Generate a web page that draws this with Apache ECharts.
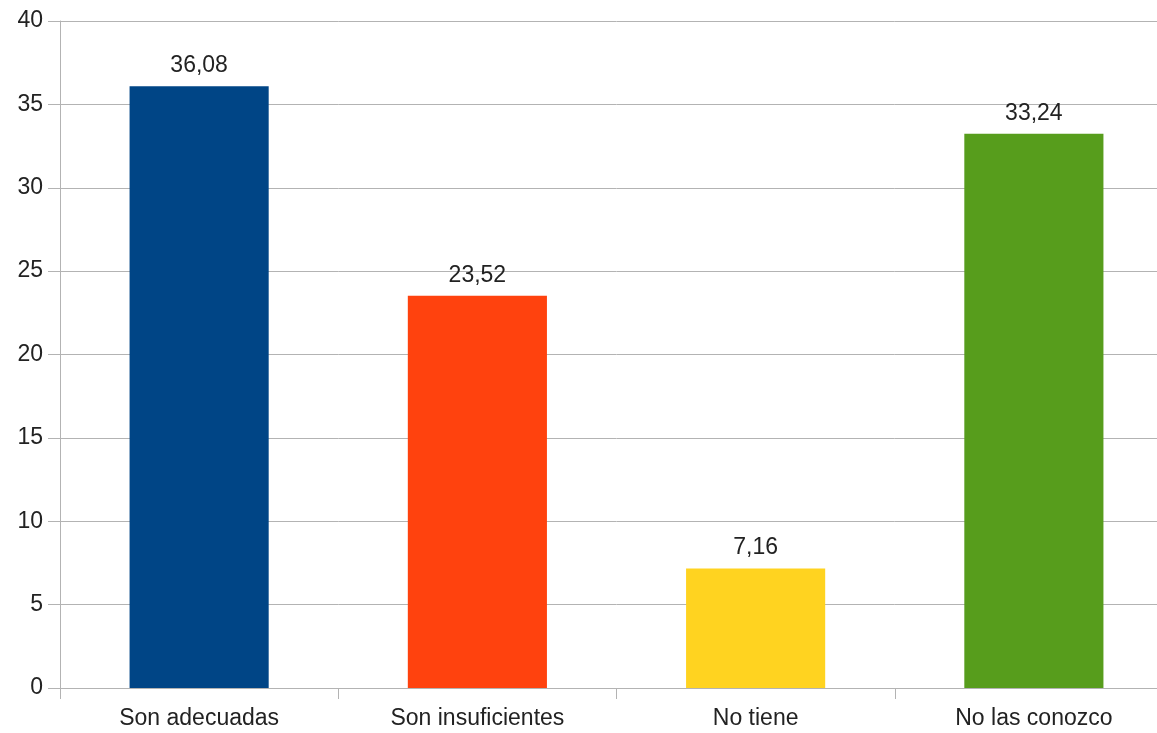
<!DOCTYPE html>
<html>
<head>
<meta charset="utf-8">
<script src="https://cdn.jsdelivr.net/npm/echarts@6/dist/echarts.min.js"></script>
<style>
  html, body { margin: 0; padding: 0; background: #fff; overflow: hidden; }
  #chart { width: 1190px; height: 733px; }
</style>
</head>
<body>
<div id="chart"></div>
<script>
// categorias y valores
const categories = ['Son adecuadas', 'Son insuficientes', 'No tiene', 'No las conozco'];
const values = [36.08, 23.52, 7.16, 33.24];
const barColors = ['#004586', '#ff420e', '#ffd320', '#579d1c'];
const yTicks = [0, 5, 10, 15, 20, 25, 30, 35, 40];

const chart = echarts.init(document.getElementById('chart'));
const font = '"Liberation Sans", Arial, sans-serif';

const option = {
  animation: false,
  // el area del grafico sigue mas alla del borde derecho de la imagen
  grid: { left: 60, top: 21, width: 1113, height: 667, containLabel: false },
  xAxis: {
    type: 'category',
    data: categories,
    axisLine: { lineStyle: { color: '#b3b3b3', width: 1 } },
    axisTick: { show: true, length: 11, lineStyle: { color: '#b3b3b3' } },
    axisLabel: { color: '#222', fontSize: 23, fontFamily: font, margin: 19 }
  },
  yAxis: {
    type: 'value',
    min: yTicks[0],
    max: yTicks[yTicks.length - 1],
    interval: 5,
    axisLine: { show: true, lineStyle: { color: '#b3b3b3', width: 1 } },
    axisTick: { show: true, length: 12, lineStyle: { color: '#b3b3b3' } },
    splitLine: { lineStyle: { color: '#b3b3b3', width: 1 } },
    axisLabel: { color: '#222', fontSize: 23, fontFamily: font, margin: 17 }
  },
  series: [{
    type: 'bar',
    barWidth: '50%',
    data: values.map((v, i) => ({ value: v, itemStyle: { color: barColors[i] } })),
    label: {
      show: true,
      position: 'top',
      distance: 9,
      color: '#222',
      fontSize: 23,
      fontFamily: font,
      formatter: p => p.value.toFixed(2).replace('.', ',')
    }
  }]
};

chart.setOption(option);
</script>
</body>
</html>
